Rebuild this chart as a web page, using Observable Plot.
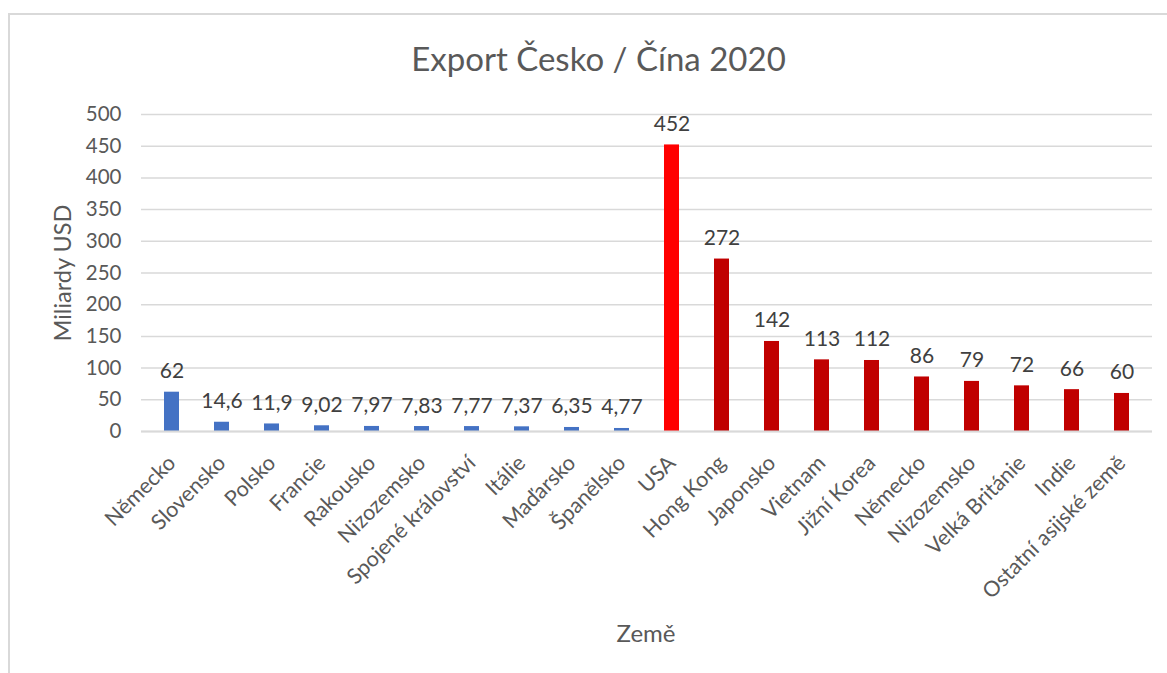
<!DOCTYPE html>
<html>
<head>
<meta charset="utf-8">
<script src="https://cdn.jsdelivr.net/npm/d3@7"></script>
<script src="https://cdn.jsdelivr.net/npm/@observablehq/plot@0.6"></script>
<style>
  body { margin: 0; background: #fff; font-family: Lato, "Open Sans", sans-serif; }
  #wrap { position: relative; width: 1167px; height: 673px; overflow: hidden; }
  #frame { position: absolute; left: 8px; top: 13px; width: 1200px; height: 700px; border: 2px solid #d9d9d9; box-sizing: border-box; }
  #title { position: absolute; left: 15px; width: 1167px; top: 38px; text-align: center; font-size: 33px; color: #595959; }
  #ylab { position: absolute; left: 62px; top: 273px; transform: translate(-50%, -50%) rotate(-90deg); font-size: 23.5px; color: #595959; white-space: nowrap; }
  #xlab { position: absolute; left: 646px; top: 632px; transform: translate(-50%, -50%); font-size: 24px; color: #595959; }
  #chart { position: absolute; left: 0; top: 0; }
</style>
</head>
<body>
<div id="wrap">
  <div id="frame"></div>
  <div id="chart"></div>
  <div id="title">Export Česko / Čína 2020</div>
  <div id="ylab">Miliardy USD</div>
  <div id="xlab">Země</div>
</div>
<script>
const countries = ["Německo", "Slovensko", "Polsko", "Francie", "Rakousko", "Nizozemsko", "Spojené království", "Itálie", "Maďarsko", "Španělsko",
  "USA", "Hong Kong", "Japonsko", "Vietnam", "Jižní Korea", "Německo", "Nizozemsko", "Velká Británie", "Indie", "Ostatní asijské země"];
const values = [62, 14.6, 11.9, 9.02, 7.97, 7.83, 7.77, 7.37, 6.35, 4.77,
  452, 272, 142, 113, 112, 86, 79, 72, 66, 60];
const groups = ["cz", "cz", "cz", "cz", "cz", "cz", "cz", "cz", "cz", "cz",
  "usa", "cn", "cn", "cn", "cn", "cn", "cn", "cn", "cn", "cn"];
const yTicks = [0, 50, 100, 150, 200, 250, 300, 350, 400, 450, 500];

const data = countries.map((c, i) => ({i, name: c, value: values[i], group: groups[i]}));
const fmt = v => String(v).replace(".", ",");

const plot = Plot.plot({
  width: 1167,
  height: 673,
  marginLeft: 141,
  marginRight: 15,
  marginTop: 114,
  marginBottom: 242,
  style: {fontFamily: "Lato, 'Open Sans', sans-serif", background: "transparent", color: "#595959"},
  x: {type: "band", domain: d3.range(countries.length), paddingInner: 0.7, paddingOuter: 0.35, label: null},
  y: {domain: [0, 500], label: null},
  color: {domain: ["cz", "usa", "cn"], range: ["#4472C4", "#FF0000", "#C00000"]},
  marks: [
    Plot.gridY(yTicks, {stroke: "#d9d9d9", strokeOpacity: 1, strokeWidth: 1.5}),
    Plot.axisY(yTicks, {tickSize: 0, tickPadding: 20, fontSize: 20.5, label: null, fill: "#595959"}),
    Plot.axisX({tickSize: 0, tickPadding: 28, tickRotate: -45, fontSize: 21.5, label: null,
      tickFormat: i => countries[i], fill: "#595959"}),
    Plot.barY(data, {x: "i", y: "value", fill: "group"}),
    Plot.ruleY([0], {stroke: "#d9d9d9", strokeWidth: 2}),
    Plot.text(data, {x: "i", y: "value", text: d => fmt(d.value), lineAnchor: "bottom", dy: -14, fontSize: 21, fill: "#404040"})
  ]
});
document.getElementById("chart").appendChild(plot);
</script>
</body>
</html>
